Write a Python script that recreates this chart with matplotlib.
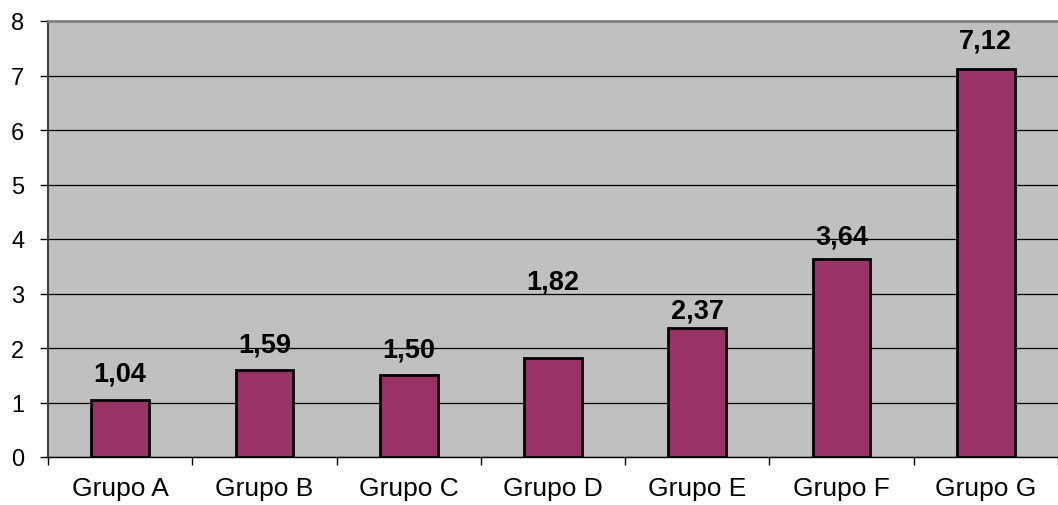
import numpy as np
import matplotlib; matplotlib.use("Agg")
import matplotlib.pyplot as plt
from matplotlib.ticker import FixedLocator, NullFormatter

plt.rcParams["font.family"] = ["Liberation Sans", "DejaVu Sans"]

groups = ["Grupo A", "Grupo B", "Grupo C", "Grupo D", "Grupo E", "Grupo F", "Grupo G"]
values = [1.04, 1.59, 1.50, 1.82, 2.37, 3.64, 7.12]
labels = ["1,04", "1,59", "1,50", "1,82", "2,37", "3,64", "7,12"]
label_offset_px = [27, 26, 26, 76, 17, 22, 28]   # Excel placed them unevenly

BAR, BG, BORDER = "#993366", "#c0c0c0", "#808080"

fig = plt.figure(figsize=(10.58, 5.06), dpi=100)
ax = fig.add_axes([48 / 1058, 48 / 506, 1 - 48 / 1058, 436 / 506])
ax.set_facecolor(BG)

x = np.arange(len(groups))
ax.bar(x, values, width=0.4, color=BAR, edgecolor="black", linewidth=2, zorder=3)
for xi, v, lab, off in zip(x, values, labels, label_offset_px):
    ax.annotate(lab, (xi, v), xytext=(0, off * 0.72), textcoords="offset points",
                ha="center", va="center", fontsize=19.5, fontweight="bold", zorder=4)

ax.set_xlim(-0.5, len(groups) - 0.5)
ax.set_ylim(0, 8)
ax.set_yticks(range(0, 9))
ax.yaxis.grid(True, color="black", lw=0.9, zorder=1)
ax.set_axisbelow(True)

ax.xaxis.set_major_locator(FixedLocator(np.arange(-0.5, len(groups), 1.0)))
ax.xaxis.set_major_formatter(NullFormatter())
ax.set_xticks(x, minor=True)
ax.set_xticklabels(groups, minor=True)
ax.tick_params(axis="x", which="major", length=6, width=1, color="black")
ax.tick_params(axis="x", which="minor", length=0, pad=14, labelsize=19)
ax.tick_params(axis="y", length=6, width=1, color="black", pad=11, labelsize=17)

ax.spines["right"].set_visible(False)
ax.spines["top"].set_color(BORDER)
ax.spines["top"].set_linewidth(2)
ax.spines["left"].set_color("#404040")
ax.spines["left"].set_linewidth(1.5)
ax.spines["bottom"].set_color("black")
ax.spines["bottom"].set_linewidth(1)

fig.savefig("out.png", dpi=100, facecolor="white")
